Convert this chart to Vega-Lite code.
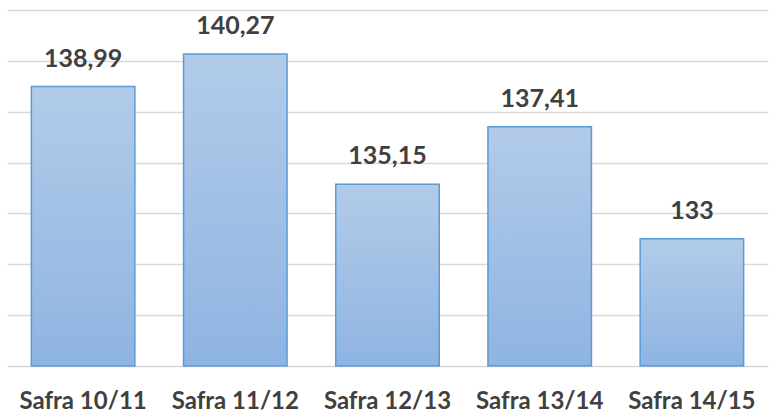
{
  "$schema": "https://vega.github.io/schema/vega-lite/v6.json",
  "width": 761,
  "height": 356,
  "autosize": {"type": "none"},
  "padding": {"left": 7, "top": 10, "right": 1, "bottom": 52},
  "background": "white",
  "config": {"view": {"stroke": null}},
  "data": {
    "values": [
      {"safra": "Safra 10/11", "valor": 138.99, "rotulo": "138,99"},
      {"safra": "Safra 11/12", "valor": 140.27, "rotulo": "140,27"},
      {"safra": "Safra 12/13", "valor": 135.15, "rotulo": "135,15"},
      {"safra": "Safra 13/14", "valor": 137.41, "rotulo": "137,41"},
      {"safra": "Safra 14/15", "valor": 133, "rotulo": "133"}
    ]
  },
  "encoding": {
    "x": {
      "field": "safra", "type": "nominal", "sort": null,
      "scale": {"paddingInner": 0.32, "paddingOuter": 0.16},
      "axis": {
        "title": null, "labelAngle": 0, "domain": false, "ticks": false,
        "labelFont": "Lato", "labelFontWeight": "bold", "labelFontSize": 24,
        "labelColor": "#404040", "labelPadding": 23
      }
    },
    "y": {
      "field": "valor", "type": "quantitative",
      "scale": {"domain": [128, 142], "zero": false, "nice": false},
      "axis": {
        "title": null, "labels": false, "ticks": false, "domain": false,
        "values": [128, 130, 132, 134, 136, 138, 140, 142],
        "gridColor": "#d9d9d9", "gridWidth": 1.5
      }
    }
  },
  "layer": [
    {
      "mark": {
        "type": "bar",
        "stroke": "#5b9bd5", "strokeWidth": 1.5,
        "color": {
          "gradient": "linear", "x1": 0, "y1": 0, "x2": 0, "y2": 1,
          "stops": [
            {"offset": 0, "color": "#b2cbe9"},
            {"offset": 1, "color": "#8fb4e2"}
          ]
        }
      },
      "encoding": {"y2": {"datum": 128}}
    },
    {
      "mark": {
        "type": "text", "dy": -28, "font": "Lato", "fontWeight": "bold",
        "fontSize": 25, "color": "#404040"
      },
      "encoding": {"text": {"field": "rotulo"}}
    }
  ]
}
